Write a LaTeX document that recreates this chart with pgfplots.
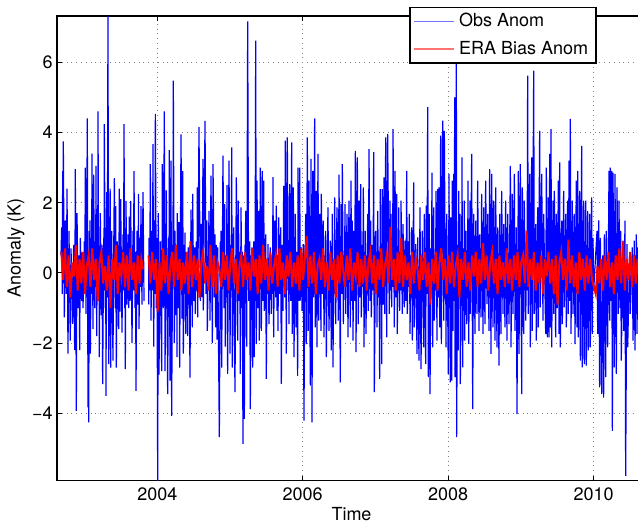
\documentclass[border=0pt]{standalone}
\usepackage{pgfplots}
\pgfplotsset{compat=1.18}
\usepackage{fontspec}
\setmainfont{TeX Gyre Heros}
\begin{document}
\begin{tikzpicture}
\begin{axis}[
  name=ax,
  scale only axis,
  width=294.5pt, height=232.35pt,
  xmin=2002.620, xmax=2010.722,
  ymin=-5.92, ymax=7.32,
  xtick={2004,2006,2008,2010},
  xticklabels={2004,2006,2008,2010},
  ytick={-4,-2,0,2,4,6},
  yticklabels={−4,−2,0,2,4,6},
  tick align=inside,
  major tick length=2.5pt,
  grid=major,
  grid style={dotted, black!50, line width=0.45pt},
  axis line style={line width=0.6pt},
  tick style={line width=0.5pt, black},
  tick label style={font=\fontsize{9pt}{10pt}\selectfont},
  yticklabel style={inner xsep=2pt},
  label style={font=\fontsize{9pt}{10pt}\selectfont},
  xlabel={Time}, ylabel={Anomaly (K)},
  xlabel style={at={(axis description cs:0.5,-0.0566)}, anchor=north, inner sep=0pt},
  ylabel style={at={(axis description cs:-0.0543,0.5)}, anchor=south, inner sep=0pt},
  unbounded coords=jump,
  legend style={at={(axis description cs:0.5976,1.020)}, anchor=north west,
    draw=black, line width=0.8pt, fill=white, inner xsep=2pt, inner ysep=1pt,
    row sep=1.5pt, font=\fontsize{9pt}{10pt}\selectfont},
  legend cell align=left,
]
\addplot[blue, line width=0.6pt, legend image code/.code={\draw[draw=blue!55, line width=0.7pt] (0pt,0pt) -- (20pt,0pt);}] coordinates {
(2002.675,0.5)(2002.684,1.3)(2002.693,-0.6)(2002.698,2.9)(2002.703,-0.3)(2002.707,3.75)(2002.721,-1.27)(2002.735,1.5)(2002.748,-0.6)(2002.758,2.4)(2002.771,-2.3)(2002.785,1.2)(2002.803,-1.93)(2002.813,0.7)(2002.835,-1.45)(2002.849,0.8)(2002.863,-2.2)(2002.872,2.96)(2002.886,-3.93)(2002.895,1.7)(2002.913,-1.0)(2002.923,0.5)(2002.932,-2.2)(2002.941,1.0)(2002.959,-0.8)(2002.968,0.6)(2002.978,-1.0)(2002.996,0.9)(2003.001,-0.5)(2003.010,3.0)(2003.019,-1.17)(2003.028,1.0)(2003.037,4.4)(2003.046,-3.83)(2003.051,0.5)(2003.056,-4.26)(2003.065,1.2)(2003.070,-0.5)(2003.074,1.5)(2003.079,-2.3)(2003.092,1.0)(2003.096,-0.6)(2003.101,3.4)(2003.115,-1.6)(2003.124,2.8)(2003.138,-1.0)(2003.147,0.6)(2003.152,-0.4)(2003.156,3.05)(2003.166,-1.8)(2003.175,1.0)(2003.180,-0.5)(2003.184,4.6)(2003.193,-0.8)(2003.198,0.4)(2003.202,-2.4)(2003.216,1.7)(2003.230,-1.2)(2003.239,0.8)(2003.248,-3.17)(2003.262,1.0)(2003.266,-0.5)(2003.271,4.24)(2003.285,-1.0)(2003.290,0.5)(2003.294,-3.5)(2003.303,2.3)(2003.312,-0.7)(2003.321,7.32)(2003.331,-2.6)(2003.344,1.0)(2003.351,2.4)(2003.358,-2.7)(2003.372,1.2)(2003.390,-2.5)(2003.400,0.6)(2003.409,2.7)(2003.422,-1.0)(2003.427,1.9)(2003.436,-2.7)(2003.450,0.9)(2003.468,-1.6)(2003.477,2.4)(2003.487,-1.1)(2003.496,2.1)(2003.514,-1.7)(2003.528,1.1)(2003.535,-0.5)(2003.542,4.24)(2003.551,-1.0)(2003.555,0.4)(2003.560,-2.74)(2003.569,2.05)(2003.583,-0.9)(2003.597,1.1)(2003.606,-1.0)(2003.615,1.6)(2003.624,-0.8)(2003.633,2.05)(2003.652,-2.0)(2003.665,1.2)(2003.672,-0.5)(2003.679,2.9)(2003.693,-1.0)(2003.700,0.6)(2003.707,-3.36)(2003.720,1.2)(2003.734,-0.9)(2003.741,2.25)(2003.748,-1.6)(2003.762,1.0)(2003.768,-0.4)(2003.775,1.9)(2003.789,-0.9)(2003.803,2.3)(2003.817,-0.8)
(2003.85,nan)
(2003.881,-0.9)(2003.885,1.0)(2003.895,-0.5)(2003.904,3.1)(2003.913,-1.36)(2003.927,1.2)(2003.934,-0.5)(2003.940,3.67)(2003.950,-2.1)(2003.963,1.5)(2003.968,-0.6)(2003.973,4.53)(2003.986,-1.0)(2003.995,1.0)
(2004.005,-5.93)(2004.014,1.7)(2004.023,-2.9)(2004.041,0.9)(2004.060,-2.8)(2004.069,3.1)(2004.083,-1.0)(2004.096,4.6)(2004.106,-2.8)(2004.124,2.35)(2004.142,-3.45)(2004.156,1.0)(2004.160,-0.5)(2004.165,3.5)(2004.174,-3.07)(2004.188,3.2)(2004.197,-4.07)(2004.211,0.8)(2004.215,-0.4)(2004.220,5.48)(2004.234,-2.0)(2004.243,1.2)(2004.257,-1.2)(2004.266,0.5)(2004.271,-2.4)(2004.275,1.7)(2004.289,-1.0)(2004.298,1.45)(2004.307,-2.7)(2004.326,3.95)(2004.339,-1.3)(2004.349,2.9)(2004.358,-2.3)(2004.371,0.8)(2004.376,-0.6)(2004.381,1.15)(2004.390,-1.74)(2004.404,0.6)(2004.417,-1.8)(2004.426,0.73)(2004.436,-0.9)(2004.440,0.5)(2004.449,-2.98)(2004.463,1.8)(2004.482,-1.55)(2004.486,2.25)(2004.500,-0.8)(2004.514,0.73)(2004.523,-1.17)(2004.537,0.9)(2004.545,-0.5)(2004.550,2.44)(2004.555,-1.27)(2004.573,4.15)(2004.592,-0.8)(2004.601,1.4)(2004.614,-0.7)(2004.628,3.25)(2004.633,-1.07)(2004.656,4.33)(2004.670,-0.6)(2004.679,1.5)(2004.688,-1.65)(2004.711,1.77)(2004.725,-1.36)(2004.738,2.77)(2004.757,-2.0)(2004.766,3.1)(2004.784,-0.7)(2004.793,1.1)(2004.802,-1.55)(2004.812,0.8)(2004.821,-1.9)(2004.830,0.73)(2004.853,-4.68)(2004.867,0.9)(2004.871,-0.5)(2004.876,1.2)(2004.885,-2.7)(2004.903,3.34)(2004.917,-1.0)(2004.926,1.96)(2004.935,-2.1)(2004.945,0.5)(2004.950,-0.7)(2004.958,2.5)(2004.967,-2.88)(2004.986,3.2)(2005.000,-2.3)(2005.010,0.8)(2005.016,-0.5)(2005.023,3.58)(2005.032,-2.7)(2005.050,1.3)(2005.068,-3.4)(2005.087,2.72)(2005.105,-1.93)(2005.114,2.06)(2005.128,-0.8)(2005.135,0.6)(2005.142,-2.88)(2005.151,1.87)(2005.165,-1.0)(2005.169,0.6)(2005.178,-4.87)(2005.188,0.5)(2005.197,-4.16)(2005.206,0.8)(2005.210,-0.4)(2005.215,1.77)(2005.229,-2.1)(2005.243,7.17)(2005.256,-0.8)(2005.270,0.9)(2005.279,-3.88)(2005.293,0.5)(2005.298,-0.6)(2005.302,0.73)(2005.311,-2.7)(2005.325,0.9)(2005.334,-2.4)
(2005.339,0.9)(2005.344,-0.8)(2005.353,6.62)(2005.362,-2.03)(2005.371,2.63)(2005.385,-1.0)(2005.394,1.77)(2005.403,-1.93)(2005.417,3.0)(2005.431,-1.65)(2005.444,2.9)(2005.454,-0.8)(2005.463,2.63)(2005.472,-1.08)(2005.481,-0.5)(2005.490,1.1)(2005.499,-3.02)(2005.510,0.4)(2005.516,-0.6)(2005.522,0.82)(2005.536,-1.46)(2005.554,0.73)(2005.568,-1.17)(2005.580,0.5)(2005.585,-0.6)(2005.591,2.73)(2005.600,-1.84)(2005.614,1.49)(2005.628,-0.7)(2005.637,1.92)(2005.646,-1.08)(2005.653,0.5)(2005.660,-1.65)(2005.669,1.58)(2005.683,-0.6)(2005.697,1.3)(2005.706,-3.16)(2005.719,0.8)(2005.729,-1.08)(2005.738,2.48)(2005.752,-0.7)(2005.761,3.77)(2005.774,-2.3)(2005.788,3.86)(2005.800,-0.5)(2005.805,0.6)(2005.811,-1.46)(2005.820,2.53)(2005.834,-0.8)(2005.848,3.72)(2005.857,-1.74)(2005.871,2.44)(2005.880,-2.4)(2005.898,1.68)(2005.907,-1.55)(2005.918,0.6)(2005.930,-2.93)(2005.935,3.0)(2005.949,-0.8)(2005.958,3.0)(2005.967,-0.79)(2005.981,0.73)(2005.990,-1.08)(2006.004,-0.5)(2006.008,0.82)(2006.017,-4.21)(2006.031,0.8)(2006.035,-0.5)(2006.040,1.68)(2006.050,-2.03)(2006.063,3.86)(2006.077,-1.65)(2006.086,2.63)(2006.105,-3.21)(2006.114,3.25)(2006.128,-4.26)(2006.137,2.91)(2006.150,-0.7)(2006.164,4.4)(2006.173,-1.55)(2006.187,2.34)(2006.196,-2.12)(2006.210,3.39)(2006.219,-1.36)(2006.233,1.68)(2006.251,-1.65)(2006.256,2.25)(2006.270,-0.6)(2006.283,1.49)(2006.293,-1.84)(2006.304,0.5)(2006.310,-0.5)(2006.315,1.2)(2006.325,-2.4)(2006.347,1.87)(2006.361,-1.65)(2006.380,0.92)(2006.393,-2.21)(2006.407,1.68)(2006.416,-2.69)(2006.428,0.4)(2006.433,-0.6)(2006.439,2.15)(2006.453,-1.46)(2006.471,1.87)(2006.490,-1.36)(2006.499,2.8)(2006.517,-3.12)(2006.526,1.96)(2006.540,-0.6)(2006.545,3.1)(2006.559,-1.46)(2006.570,0.5)(2006.575,-0.4)(2006.581,1.96)(2006.591,-1.17)(2006.609,1.68)(2006.623,-1.84)(2006.636,2.06)(2006.655,-1.55)(2006.664,2.63)(2006.673,-0.8)(2006.682,1.49)(2006.692,-1.93)
(2006.701,1.2)(2006.714,-0.8)(2006.724,3.48)(2006.733,-2.26)(2006.751,3.29)(2006.765,-1.46)(2006.774,2.06)(2006.788,-0.7)(2006.797,2.53)(2006.806,-1.27)(2006.820,0.8)(2006.826,-0.4)(2006.834,2.44)(2006.843,-2.12)(2006.852,0.6)(2006.856,-0.5)(2006.861,1.2)(2006.870,-1.74)(2006.882,0.5)(2006.888,-0.6)(2006.893,1.68)(2006.902,-1.08)(2006.912,3.53)(2006.925,-0.8)(2006.935,1.49)(2006.944,-1.27)(2006.957,0.8)(2006.966,-0.5)(2006.976,3.44)(2006.985,-3.4)(2007.003,1.2)(2007.012,-0.5)(2007.017,0.6)(2007.022,-1.55)(2007.031,1.77)(2007.045,-0.7)(2007.049,0.6)(2007.058,-3.02)(2007.067,2.39)(2007.076,-0.5)(2007.081,0.7)(2007.086,-2.6)(2007.095,2.39)(2007.109,-0.9)(2007.118,2.72)(2007.127,-1.17)(2007.134,0.5)(2007.141,3.86)(2007.155,-1.84)(2007.168,3.96)(2007.182,0.7)(2007.191,-1.17)(2007.200,2.06)(2007.207,-0.5)(2007.214,1.68)(2007.223,-0.98)(2007.232,0.6)(2007.237,-0.4)(2007.242,4.1)(2007.260,-1.55)(2007.269,2.91)(2007.283,-0.7)(2007.292,2.25)(2007.301,-1.74)(2007.310,0.5)(2007.315,-0.5)(2007.320,1.87)(2007.333,-1.08)(2007.343,0.6)(2007.347,-0.5)(2007.352,2.06)(2007.370,-1.17)(2007.379,1.39)(2007.398,-0.98)(2007.407,0.92)(2007.421,-0.8)(2007.430,2.91)(2007.439,-1.17)(2007.453,0.9)(2007.460,-0.4)(2007.466,1.68)(2007.476,-1.74)(2007.487,0.5)(2007.492,-0.6)(2007.498,1.3)(2007.508,-1.93)(2007.526,2.58)(2007.535,-1.55)(2007.554,0.82)(2007.572,-2.31)(2007.581,1.01)(2007.599,-2.5)(2007.613,1.87)(2007.627,-2.74)(2007.645,1.2)(2007.664,-2.12)(2007.673,1.68)(2007.691,-2.6)(2007.700,1.92)(2007.709,-0.6)(2007.719,4.72)(2007.728,-2.97)(2007.741,1.68)(2007.751,-3.45)(2007.764,0.7)(2007.770,-0.5)(2007.778,2.86)(2007.787,-2.12)(2007.801,1.87)(2007.810,-1.36)(2007.822,0.5)(2007.828,-0.5)(2007.833,2.34)(2007.847,-1.93)(2007.856,2.39)(2007.865,-0.7)(2007.874,2.44)(2007.884,-1.55)(2007.897,3.91)(2007.907,-2.03)(2007.925,4.34)(2007.939,-1.36)(2007.948,4.05)(2007.962,-0.8)(2007.966,0.5)(2007.971,-2.12)(2007.980,1.68)(2008.003,-2.88)(2008.012,2.82)(2008.021,-1.0)(2008.026,0.6)(2008.030,-3.12)
(2008.035,1.58)(2008.049,-3.07)(2008.058,2.63)(2008.067,-1.65)(2008.076,2.82)(2008.085,-0.8)(2008.090,5.0)(2008.095,-2.97)(2008.104,1.0)(2008.108,-0.5)(2008.113,6.9)(2008.117,-4.68)(2008.131,0.8)(2008.140,-2.21)(2008.145,2.34)(2008.154,-0.7)(2008.163,1.68)(2008.168,-3.17)(2008.182,0.9)(2008.186,-0.4)(2008.191,3.29)(2008.200,-2.69)(2008.214,0.7)(2008.219,-0.5)(2008.223,2.06)(2008.228,-1.93)(2008.237,0.5)(2008.241,-0.4)(2008.246,1.2)(2008.255,-1.46)(2008.264,0.6)(2008.268,-0.5)(2008.273,2.63)(2008.283,-2.02)(2008.301,2.06)(2008.305,-1.17)(2008.324,3.39)(2008.338,-3.88)(2008.351,1.68)(2008.370,-1.74)(2008.379,1.49)(2008.397,-1.17)(2008.406,2.63)(2008.425,-1.65)(2008.434,1.1)(2008.452,-1.27)(2008.461,2.25)(2008.480,-1.74)(2008.489,1.87)(2008.507,-1.46)(2008.516,2.63)(2008.535,-0.89)(2008.544,1.68)(2008.562,-1.65)(2008.571,2.96)(2008.590,-2.31)(2008.599,2.82)(2008.617,-1.55)(2008.626,2.06)(2008.645,-1.93)(2008.654,2.44)(2008.672,-2.12)(2008.681,1.3)(2008.700,-2.64)(2008.709,1.68)(2008.727,-1.74)(2008.736,2.34)(2008.755,-1.17)(2008.764,1.39)(2008.782,-1.55)(2008.791,2.06)(2008.810,-1.93)(2008.819,1.68)(2008.837,-1.46)(2008.856,3.05)(2008.865,-2.12)(2008.883,2.25)(2008.892,-1.17)(2008.911,2.82)(2008.920,-1.65)(2008.938,1.3)(2008.947,-4.02)(2008.966,2.91)(2008.975,-2.31)(2008.993,3.1)(2009.012,-3.45)(2009.021,2.44)(2009.039,-1.74)(2009.048,2.06)(2009.067,-1.36)(2009.080,0.6)(2009.086,-0.5)(2009.094,5.62)(2009.103,-1.17)(2009.122,2.82)(2009.131,-2.12)(2009.149,3.29)(2009.158,-1.65)(2009.177,5.76)(2009.186,-1.17)(2009.204,1.39)(2009.213,-1.93)(2009.232,1.87)(2009.241,-1.55)(2009.259,4.05)(2009.268,-0.98)(2009.287,2.82)(2009.305,-1.36)(2009.314,1.68)(2009.342,-1.74)(2009.351,3.0)(2009.365,-1.84)(2009.378,2.15)
(2009.388,-1.84)(2009.397,3.39)(2009.406,-1.55)(2009.415,4.1)(2009.424,-2.12)(2009.443,2.06)(2009.452,-1.17)(2009.461,2.34)(2009.479,-1.84)(2009.488,1.68)(2009.502,-1.0)(2009.516,2.63)(2009.525,-1.74)(2009.534,3.15)(2009.543,-2.12)(2009.562,1.49)(2009.571,-1.46)(2009.589,2.34)(2009.598,-0.98)(2009.617,1.68)(2009.626,-1.55)(2009.644,2.06)(2009.653,-1.17)(2009.663,3.2)(2009.672,-0.8)(2009.681,4.39)(2009.690,-1.74)(2009.708,2.06)(2009.718,-1.17)(2009.736,1.68)(2009.745,-2.03)(2009.763,2.63)(2009.773,-1.55)(2009.782,2.91)(2009.791,-1.84)(2009.809,2.34)(2009.819,-2.5)(2009.837,3.62)(2009.846,-2.69)(2009.864,2.06)(2009.874,-2.6)(2009.892,2.06)(2009.901,-2.64)(2009.919,1.77)(2009.929,-2.21)(2009.947,1.68)(2009.956,-2.12)(2009.974,2.15)(2009.984,-1.74)(2009.993,1.0)(2010.002,-0.5)(2010.048,1.2)(2010.057,-1.74)(2010.071,1.5)(2010.084,-3.26)(2010.094,1.0)(2010.112,-3.45)(2010.126,0.5)(2010.139,-3.55)(2010.149,1.1)(2010.167,-2.97)(2010.176,1.2)(2010.194,-2.12)(2010.213,2.91)(2010.222,-1.36)(2010.231,3.0)(2010.240,-0.8)(2010.250,2.91)(2010.259,-4.5)(2010.268,2.86)(2010.286,-2.69)(2010.295,2.82)(2010.314,-2.88)(2010.323,2.44)(2010.341,-1.17)(2010.350,2.06)(2010.364,-1.0)(2010.373,1.2)(2010.382,-2.5)(2010.405,0.92)(2010.415,-1.65)(2010.433,1.49)(2010.442,-5.78)(2010.460,0.82)(2010.470,-2.12)(2010.497,0.54)(2010.506,-1.17)(2010.534,0.73)(2010.543,-1.93)(2010.561,0.92)(2010.570,-2.21)(2010.589,1.1)(2010.598,-1.74)(2010.607,0.73)(2010.621,-1.5)(2010.640,1.3)(2010.660,-1.2)(2010.690,0.9)(2010.720,-0.8)
};
\addlegendentry{Obs Anom}
\addplot[red, line width=1.0pt, legend image code/.code={\draw[draw=red!55, line width=0.7pt] (0pt,0pt) -- (20pt,0pt);}] coordinates {
(2002.680,0.6)(2002.705,-0.2)(2002.730,0.7)(2002.755,-0.4)(2002.780,0.5)(2002.805,-0.7)(2002.830,0.3)(2002.855,-0.1)(2002.880,0.8)(2002.905,-0.5)(2002.930,0.4)(2002.955,-0.3)(2002.980,0.6)
(2003.005,-0.6)(2003.030,0.2)(2003.055,0.5)(2003.080,-0.4)(2003.105,0.7)(2003.130,-0.2)(2003.155,0.4)(2003.180,-0.8)(2003.205,0.3)(2003.230,0.6)(2003.255,-0.3)(2003.280,0.2)(2003.305,-0.5)(2003.330,0.5)(2003.355,-1.0)(2003.380,0.4)(2003.405,-0.2)(2003.430,0.8)(2003.455,-0.6)(2003.480,0.3)(2003.505,-0.1)(2003.530,0.6)(2003.555,-0.4)(2003.580,0.5)(2003.605,-0.5)(2003.630,0.7)(2003.655,-0.2)(2003.680,0.3)(2003.705,-0.6)(2003.730,0.5)(2003.755,-0.3)(2003.780,0.4)(2003.805,0.1)
(2003.85,nan)
(2003.880,0.5)(2003.905,-0.3)(2003.930,0.6)(2003.955,-0.2)(2003.980,0.4)
(2004.005,-1.1)(2004.030,0.3)(2004.055,-0.5)(2004.080,0.7)(2004.105,-0.3)(2004.130,0.5)(2004.155,-0.6)(2004.180,0.2)(2004.205,0.6)(2004.230,-0.4)(2004.255,0.8)(2004.280,-0.2)(2004.305,0.4)(2004.330,-0.5)(2004.355,0.3)(2004.380,-0.3)(2004.405,0.6)(2004.430,-0.6)(2004.455,0.9)(2004.480,-0.4)(2004.505,0.5)(2004.530,-0.2)(2004.555,0.4)(2004.580,-0.7)(2004.605,0.3)(2004.630,0.6)(2004.655,-0.3)(2004.680,0.2)(2004.705,-0.5)(2004.730,0.8)(2004.755,-0.4)(2004.780,0.5)(2004.805,-0.6)(2004.830,0.3)(2004.855,0.1)(2004.880,-0.4)(2004.905,0.6)(2004.930,-0.2)(2004.955,0.5)(2004.980,-0.5)
(2005.005,0.3)(2005.030,0.7)(2005.055,-0.3)(2005.080,0.4)(2005.105,-0.6)(2005.130,0.2)(2005.155,0.5)(2005.180,-0.4)(2005.205,0.6)(2005.230,-0.2)(2005.255,0.3)(2005.280,-0.5)(2005.305,0.7)(2005.330,-0.1)(2005.355,0.4)(2005.380,-0.6)(2005.405,0.5)(2005.430,-0.3)(2005.455,0.8)(2005.480,-0.2)(2005.505,0.4)(2005.530,-0.5)(2005.555,0.6)(2005.580,-0.3)(2005.605,0.2)(2005.630,0.5)(2005.655,-0.4)(2005.680,0.7)(2005.705,-0.2)(2005.730,0.3)(2005.755,-0.6)(2005.780,0.5)(2005.805,-0.1)(2005.830,0.6)(2005.855,-0.4)(2005.880,0.3)(2005.905,-0.3)(2005.930,0.5)(2005.955,-0.5)(2005.980,0.7)
(2006.005,-0.2)(2006.030,0.4)(2006.055,1.05)(2006.080,-0.4)(2006.105,0.5)(2006.130,-0.3)(2006.155,0.6)(2006.180,-0.6)(2006.205,0.2)(2006.230,0.4)(2006.255,-0.2)(2006.280,0.7)(2006.305,-0.4)(2006.330,0.3)(2006.355,-0.5)(2006.380,0.6)(2006.405,-0.2)(2006.430,0.4)(2006.455,-0.7)(2006.480,0.5)(2006.505,-0.3)(2006.530,0.6)(2006.555,0.1)(2006.580,-0.4)(2006.605,0.5)(2006.630,-0.2)(2006.655,0.7)(2006.680,-0.5)(2006.705,0.3)(2006.730,-0.1)(2006.755,0.6)(2006.780,-0.4)(2006.805,0.4)(2006.830,-0.3)(2006.855,0.5)(2006.880,-0.5)(2006.905,0.3)(2006.930,0.6)(2006.955,-0.3)(2006.980,0.5)
(2007.005,-0.6)(2007.030,0.4)(2007.055,-0.2)(2007.080,0.7)(2007.105,-0.4)(2007.130,0.2)(2007.155,0.5)(2007.180,-0.3)(2007.205,1.3)(2007.230,-0.2)(2007.255,0.4)(2007.280,-0.5)(2007.305,0.6)(2007.330,-0.3)(2007.355,1.0)(2007.380,-0.4)(2007.405,0.5)(2007.430,-0.2)(2007.455,0.3)(2007.480,-0.6)(2007.505,0.6)(2007.530,-0.3)(2007.555,0.4)(2007.580,0.1)(2007.605,-0.5)(2007.630,0.5)(2007.655,-0.2)(2007.680,0.6)(2007.705,-0.4)(2007.730,0.3)(2007.755,-0.9)(2007.780,0.4)(2007.805,-0.3)(2007.830,0.6)(2007.855,-0.5)(2007.880,0.3)(2007.905,0.7)(2007.930,-0.2)(2007.955,0.4)(2007.980,-0.6)
(2008.005,0.5)(2008.030,-0.3)(2008.055,0.6)(2008.080,-0.4)(2008.105,0.2)(2008.130,0.5)(2008.155,-0.7)(2008.180,0.4)(2008.205,-0.2)(2008.230,0.6)(2008.255,-0.4)(2008.280,0.3)(2008.305,-0.5)(2008.330,0.5)(2008.355,-0.1)(2008.380,0.6)(2008.405,-0.4)(2008.430,0.4)(2008.455,-0.3)(2008.480,0.85)(2008.505,-0.2)(2008.530,0.5)(2008.555,-0.5)(2008.580,0.3)(2008.605,0.6)(2008.630,-0.3)(2008.655,0.4)(2008.680,-0.6)(2008.705,0.5)(2008.730,-0.2)(2008.755,0.3)(2008.780,-0.4)(2008.805,0.7)(2008.830,-0.3)(2008.855,0.4)(2008.880,-0.5)(2008.905,0.5)(2008.930,-0.2)(2008.955,0.6)(2008.980,-0.4)
(2009.005,0.3)(2009.030,0.5)(2009.055,-0.3)(2009.080,1.2)(2009.105,-0.4)(2009.130,0.4)(2009.155,-0.2)(2009.180,0.6)(2009.205,-0.5)(2009.230,0.3)(2009.255,-0.3)(2009.280,0.5)(2009.305,-0.6)(2009.330,0.4)(2009.355,-0.1)(2009.380,0.6)(2009.405,-0.3)(2009.430,0.4)(2009.455,-0.6)(2009.480,0.5)(2009.505,-0.9)(2009.530,0.3)(2009.555,0.6)(2009.580,-0.2)(2009.605,0.4)(2009.630,-0.5)(2009.655,0.95)(2009.680,-0.3)(2009.705,0.5)(2009.730,-0.4)(2009.755,0.3)(2009.780,-0.6)(2009.805,0.6)(2009.830,-0.2)(2009.855,0.4)(2009.880,-0.5)(2009.905,0.5)(2009.930,-0.3)(2009.955,0.4)(2009.980,-0.2)
(2010.030,-0.6)(2010.055,0.2)(2010.080,-0.3)(2010.105,0.4)(2010.130,-0.5)(2010.155,0.5)(2010.180,-0.2)(2010.205,0.6)(2010.230,-0.4)(2010.255,0.3)(2010.280,-0.6)(2010.305,0.5)(2010.330,-0.2)(2010.355,0.7)(2010.380,-0.3)(2010.405,0.9)(2010.430,-0.5)(2010.455,0.4)(2010.480,-0.2)(2010.505,0.6)(2010.530,-0.4)(2010.555,0.5)(2010.580,-0.3)(2010.605,0.4)(2010.630,-0.2)(2010.655,0.5)(2010.680,-0.3)(2010.705,0.4)(2010.730,0.1)
};
\addlegendentry{ERA Bias Anom}
\end{axis}
\pgfresetboundingbox
\path[use as bounding box] ([xshift=-28.5pt,yshift=-21.65pt]ax.south west) rectangle ([xshift=290.5pt,yshift=8pt]ax.north west);
\end{tikzpicture}
\end{document}
